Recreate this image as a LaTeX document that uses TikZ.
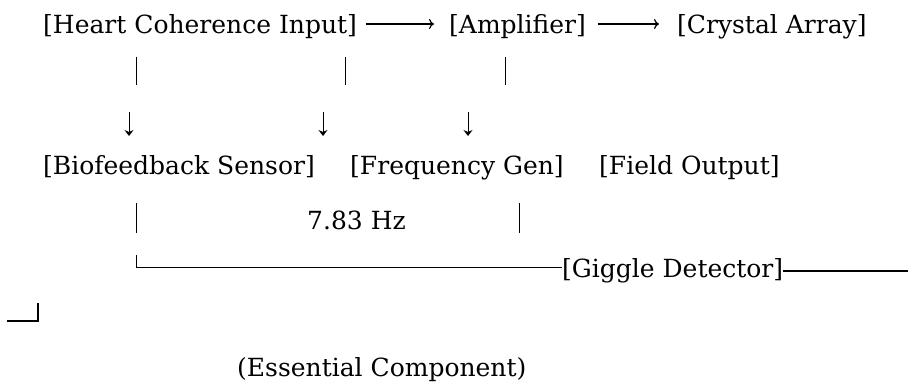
\documentclass[tikz,border=0pt]{standalone}
\usepackage{fontspec}
\setmainfont{DejaVu Serif}
\usepackage{tikz}
\usetikzlibrary{arrows,arrows.meta,positioning,calc}

\begin{document}
\begin{tikzpicture}[x=1pt, y=-1pt, every node/.style={font=\fontsize{25}{30}\selectfont, inner sep=0pt, anchor=base west, text height=20pt, text depth=0pt}]
                \useasboundingbox (0,0) rectangle (908,382);
                \node (heart) at (43,34) {[Heart Coherence Input]};
                \node (amp) at (449,34) {[Amplifier]};
                \node (crystal) at (677,34) {[Crystal Array]};
                \node (bio) at (43,175) {[Biofeedback Sensor]};
                \node (freq) at (350,175) {[Frequency Gen]};
                \node (field) at (599,175) {[Field Output]};
                \node (hz) at (307,230) {7.83 Hz};
                \node (giggle) at (562,278) {[Giggle Detector]};
                \node (essential) at (237,376) {(Essential Component)};
                \draw [-{To[length=5pt,width=10pt]}, line width=1.2pt, shorten <=8.5pt, shorten >=15pt] (heart) -- (amp);
                \draw [-{To[length=5pt,width=10pt]}, line width=1.2pt, shorten <=11.5pt, shorten >=18pt] (amp) -- (crystal);
                \foreach \x/\n in {136/a, 345/b, 505/c} {
                    \coordinate (bar\n1) at (\x,57);
                    \coordinate (bar\n2) at (\x,85);
                    \draw [line width=1pt] (bar\n1) -- (bar\n2);
                }
                \foreach \x/\n in {129/a, 323/b, 468/c} {
                    \coordinate (down\n1) at (\x,112);
                    \coordinate (down\n2) at (\x,136);
                    \draw [-{Stealth[length=6pt,width=9pt,inset=2pt]}, line width=1pt] (down\n1) -- (down\n2);
                }
                \foreach \x/\n in {136/a, 519/b} {
                    \coordinate (low\n1) at (\x,203);
                    \coordinate (low\n2) at (\x,233);
                    \draw [line width=1pt] (low\n1) -- (low\n2);
                }
                \coordinate (elbow) at (136,255);
                \draw [line width=1pt] (elbow) |- (giggle.west);
                \coordinate (edge) at (908,271);
                \draw [line width=2pt] ([yshift=-3pt]giggle.east) -- (edge);
                \coordinate (wrapa) at (7,321);
                \coordinate (wrapb) at (38,303);
                \draw [line width=2pt] (wrapa) -| (wrapb);
            \end{tikzpicture}
\end{document}
